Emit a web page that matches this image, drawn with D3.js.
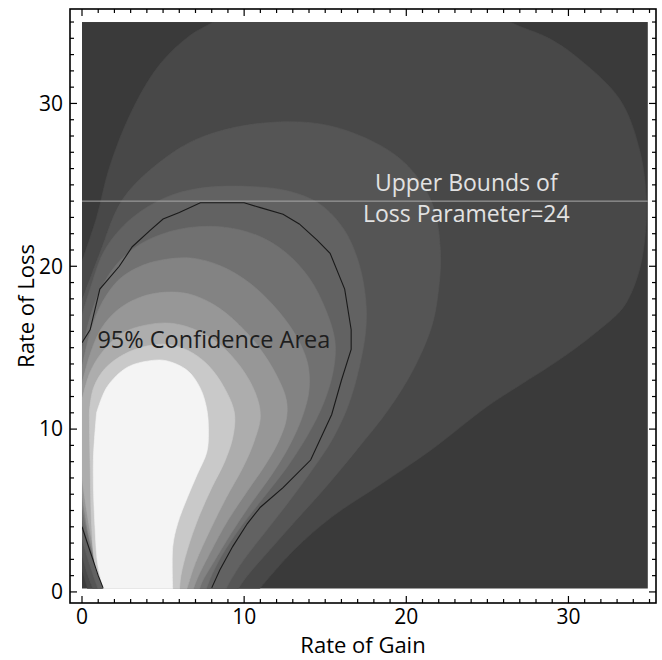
<!DOCTYPE html>
<html>
<head>
<meta charset="utf-8">
<script src="https://cdn.jsdelivr.net/npm/d3@7"></script>
<style>
  body { margin: 0; background: #fff; }
  svg text { font-family: "Open Sans", "Noto Sans", sans-serif; }
</style>
</head>
<body>
<div id="chart"></div>
<script>
// Contour bands, outermost (darkest) to innermost (white).
// Each band: a main curve [gain, loss] that runs from the left edge round to the
// bottom edge, plus a small corner curve near the origin (bottom edge -> left edge).
var band1 = [[0,20.3],[0.9,23.0],[1.7,26.1],[3.1,29.6],[4.8,32.4],[6.7,34.2],[8.1,35.0],[10,36.2],[17,37.5],[24,36.5],[26.4,35.0],[28.8,34.0],[30.7,32.7],[33.2,30.2],[34.4,27.1],[34.8,24.1],[34.7,21.6],[34.3,19.5],[33.4,17.5],[31.9,16.1],[29.5,14.3],[27.0,12.7],[25.0,11.4],[21.5,8.7],[18.4,6.6],[15.4,4.6],[13.1,2.6],[11.0,0.25],[10.8,0]];
var band1Corner = [[0.4,0],[0,1.4]];
var band2 = [[0,17.9],[1.1,20.8],[2.5,24.1],[4.8,26.4],[7.3,27.9],[11.2,28.8],[15.4,28.6],[19.5,26.7],[21.5,24.1],[22.1,21.0],[21.9,17.9],[21.5,16.1],[20.4,13.6],[18.9,11.2],[17.0,8.8],[15.0,6.4],[13.2,4.4],[11.6,2.6],[10.2,1.0],[9.5,0]];
var band2Corner = [[0.75,0],[0.3,1.2],[0,2.3]];
var band3 = [[0,17.0],[0.5,18.6],[1.4,21.0],[3.0,22.9],[5.1,24.2],[7.3,24.8],[10.4,24.9],[12.8,24.6],[14.7,23.8],[16.2,22.2],[17.1,20.1],[17.5,17.9],[17.5,16.1],[17.1,13.8],[16.4,11.4],[15.4,9.3],[14.2,7.5],[12.8,5.6],[11.4,3.8],[10.0,2.0],[9.1,0.6],[8.8,0]];
var band3Corner = [[1.05,0],[0.5,1.6],[0,3.2]];
var band4 = [[0,14.8],[0.5,16.9],[1.2,18.7],[2.2,20.2],[3.5,21.3],[5,22.0],[6.8,22.4],[8.8,22.4],[10.8,21.9],[12.5,20.9],[14.0,19.3],[15.0,17.4],[15.6,15.4],[15.5,13.6],[14.9,11.6],[13.9,9.6],[12.6,7.6],[11.2,5.8],[9.8,4.0],[8.6,2.2],[7.9,0.8],[7.6,0]];
var band4Corner = [[1.35,0],[0.8,1.5],[0.35,3.0],[0,4.6]];
var band5 = [[0,13.8],[0.5,15.9],[1.2,17.7],[2.3,19.2],[3.6,20.0],[5,20.4],[6.8,20.5],[8.6,20.0],[10.3,19.0],[11.8,17.6],[13.1,15.9],[13.9,14.1],[14.0,12.4],[13.6,10.8],[12.8,9.0],[11.7,7.2],[10.4,5.4],[9.2,3.6],[8.1,1.8],[7.4,0.6],[7.2,0]];
var band5Corner = [[1.4,0],[0.8,1.8],[0.35,3.6],[0,5.3]];
var band6 = [[0,12.8],[0.5,14.6],[1.2,16.2],[2.3,17.4],[3.6,18.1],[5,18.4],[6.6,18.3],[8.2,17.6],[9.7,16.4],[11.0,14.9],[12.0,13.3],[12.6,11.8],[12.6,10.6],[12.1,9.2],[11.3,7.8],[10.2,6.2],[9.0,4.4],[7.9,2.4],[7.1,0.8],[6.8,0]];
var band6Corner = [[1.45,0],[0.9,1.6],[0.4,3.6],[0,6.0]];
var band7 = [[0,11.8],[0.5,13.5],[1.3,14.8],[2.5,15.9],[4,16.4],[5.5,16.5],[7,16.1],[8.5,15.2],[9.8,13.8],[10.7,12.2],[11.0,10.8],[10.6,9.2],[9.9,7.6],[8.9,5.8],[7.9,3.8],[7.0,1.8],[6.5,0.3],[6.4,0]];
var band7Corner = [[1.5,0],[0.95,1.6],[0.45,4.0],[0,7.0]];
var band8 = [[0.45,11],[0.7,12.5],[1.4,13.7],[2.6,14.6],[4,15.1],[5.3,15.2],[6.6,14.8],[7.8,13.9],[8.8,12.5],[9.4,11.0],[9.3,9.5],[8.8,8.0],[8.0,6.4],[7.2,4.6],[6.5,2.6],[6.1,1.0],[6.0,0]];
var band8Corner = [[1.5,0],[0.85,1.5],[0.6,4],[0.5,8],[0.45,11]];
var band9 = [[0.9,11],[1.55,12.6],[2.8,13.8],[4.2,14.2],[5.2,14.2],[6.5,13.6],[7.3,12.5],[7.7,11.2],[7.8,9.8],[7.7,8.6],[7.1,7.2],[6.5,5.8],[5.9,4.2],[5.6,2.8],[5.6,0]];
var band9Corner = [[1.4,0],[1.0,1.5],[0.8,4],[0.7,8],[0.9,11]];

var bands = [band1, band2, band3, band4, band5, band6, band7, band8, band9];
var corners = [band1Corner, band2Corner, band3Corner, band4Corner, band5Corner, band6Corner, band7Corner, band8Corner, band9Corner];
var bandGrey = ["#3a3a3a", "#484848", "#555555", "#626262", "#717171", "#838383", "#979797", "#adadad", "#c9c9c9", "#f4f4f4"];

// 95% confidence contour (black line), main piece and corner piece
var ci95 = [[0,15.3],[0.5,16.1],[1.1,18.6],[2.3,20.0],[3.1,21.2],[4.2,22.2],[5.0,22.9],[6.0,23.3],[7.3,23.9],[10.0,23.9],[11.0,23.6],[12.4,23.2],[13.4,22.6],[14.5,21.6],[15.3,20.8],[16.2,18.6],[16.6,16.1],[16.6,14.9],[16.0,13.0],[15.4,10.9],[14.1,8.1],[12.4,6.4],[11.0,5.2],[10.2,4.2],[9.3,2.8],[8.5,1.35],[8.0,0.25]];
var ci95Corner = [[0,4.0],[0.5,2.5],[1.0,1.0],[1.3,0.25]];

var upperBound = 24;
var xTicks = [0, 10, 20, 30];
var yTicks = [0, 10, 20, 30];

var W = 662, H = 660;
var x = d3.scaleLinear().domain([-0.74, 35.4]).range([70, 656]);
var y = d3.scaleLinear().domain([-0.68, 35.8]).range([603, 9]);

var svg = d3.select("#chart").append("svg")
    .attr("width", W).attr("height", H);

svg.append("rect").attr("width", W).attr("height", H).attr("fill", "#fff");

// clip to the computed region
svg.append("clipPath").attr("id", "plotclip")
  .append("rect")
    .attr("x", x(0)).attr("y", y(35))
    .attr("width", x(34.9) - x(0)).attr("height", y(0.2) - y(35));

var g = svg.append("g").attr("clip-path", "url(#plotclip)");

g.append("rect")
    .attr("x", x(0)).attr("y", y(35))
    .attr("width", x(34.9) - x(0)).attr("height", y(0.2) - y(35))
    .attr("fill", bandGrey[0]);

var curve = d3.line()
    .x(function(d) { return x(d[0]); })
    .y(function(d) { return y(d[1]); })
    .curve(d3.curveCatmullRom);

function pt(px, py) { return "L" + x(px) + "," + y(py); }

function bandPath(main, corner) {
  var end = main[main.length - 1], start = main[0];
  var c0 = corner[0], c1 = corner[corner.length - 1];
  var d = curve(main);
  d += pt(end[0], -1) + pt(c0[0], -1);
  d += curve(corner).replace(/^M/, "L");
  if (c1[0] <= 0) d += pt(-1, c1[1]) + pt(-1, start[1]);
  return d + "Z";
}

bands.forEach(function(b, i) {
  g.append("path")
      .attr("d", bandPath(b, corners[i]))
      .attr("fill", bandGrey[i + 1])
      .attr("stroke", bandGrey[i + 1])
      .attr("stroke-width", 0.6);
});

// 95% confidence line
[ci95, ci95Corner].forEach(function(c) {
  g.append("path")
      .attr("d", d3.line().x(function(d) { return x(d[0]); }).y(function(d) { return y(d[1]); })(c))
      .attr("fill", "none")
      .attr("stroke", "#1a1a1a")
      .attr("stroke-width", 1.1);
});

// upper bound line
g.append("line")
    .attr("x1", x(0)).attr("x2", x(34.9))
    .attr("y1", y(upperBound)).attr("y2", y(upperBound))
    .attr("stroke", "#a8a8a8")
    .attr("stroke-width", 1);

// annotations
svg.append("text")
    .attr("x", x(0.95)).attr("y", y(15.0))
    .attr("font-size", 23.5).attr("fill", "#1e1e1e")
    .text("95% Confidence Area");

svg.append("text")
    .attr("x", x(23.7)).attr("y", y(24.65))
    .attr("text-anchor", "middle")
    .attr("font-size", 23).attr("fill", "#e2e2e2")
    .text("Upper Bounds of");
svg.append("text")
    .attr("x", x(23.7)).attr("y", y(22.7))
    .attr("text-anchor", "middle")
    .attr("font-size", 23).attr("fill", "#e2e2e2")
    .text("Loss Parameter=24");

// frame
var x0 = x.range()[0], x1 = x.range()[1], y0 = y.range()[0], y1 = y.range()[1];
svg.append("rect")
    .attr("x", x0).attr("y", y1)
    .attr("width", x1 - x0).attr("height", y0 - y1)
    .attr("fill", "none").attr("stroke", "#000").attr("stroke-width", 1.6);

var minor = d3.range(0, 36, 1);
var ticks = svg.append("g").attr("stroke", "#000").attr("stroke-width", 1.2);
minor.forEach(function(v) {
  var len = v % 10 === 0 ? 7 : 4;
  ticks.append("line").attr("x1", x(v)).attr("x2", x(v)).attr("y1", y0).attr("y2", y0 - len);
  ticks.append("line").attr("x1", x(v)).attr("x2", x(v)).attr("y1", y1).attr("y2", y1 + len);
  ticks.append("line").attr("y1", y(v)).attr("y2", y(v)).attr("x1", x0).attr("x2", x0 + len);
  ticks.append("line").attr("y1", y(v)).attr("y2", y(v)).attr("x1", x1).attr("x2", x1 - len);
});

svg.selectAll(".xt").data(xTicks).enter().append("text")
    .attr("x", function(d) { return x(d); })
    .attr("y", 624)
    .attr("text-anchor", "middle")
    .attr("font-size", 21)
    .text(function(d) { return d; });

svg.selectAll(".yt").data(yTicks).enter().append("text")
    .attr("x", 63)
    .attr("y", function(d) { return y(d); })
    .attr("dy", "0.35em")
    .attr("text-anchor", "end")
    .attr("font-size", 21)
    .text(function(d) { return d; });

svg.append("text")
    .attr("x", (x0 + x1) / 2).attr("y", 653)
    .attr("text-anchor", "middle")
    .attr("font-size", 22)
    .text("Rate of Gain");

svg.append("text")
    .attr("transform", "translate(34," + ((y0 + y1) / 2) + ") rotate(-90)")
    .attr("text-anchor", "middle")
    .attr("font-size", 22)
    .text("Rate of Loss");
</script>
</body>
</html>
